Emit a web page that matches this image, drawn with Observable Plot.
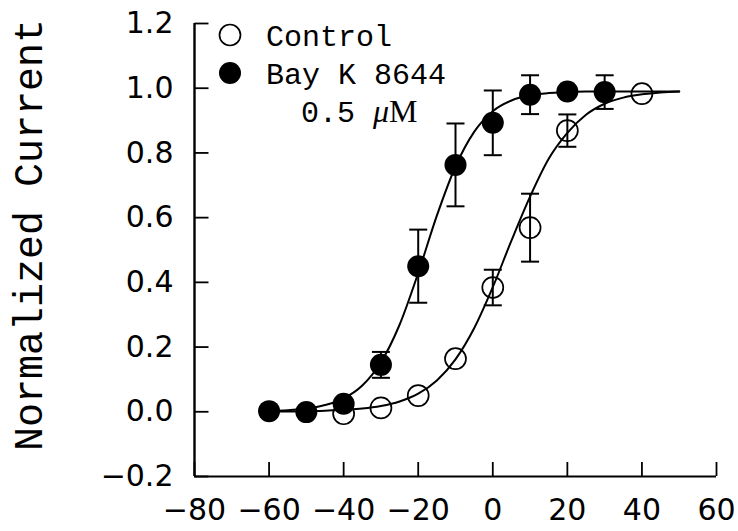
<!DOCTYPE html>
<html>
<head>
<meta charset="utf-8">
<script src="https://cdn.jsdelivr.net/npm/d3@7"></script>
<script src="https://cdn.jsdelivr.net/npm/@observablehq/plot@0.6"></script>
<style>
  html, body { margin: 0; padding: 0; background: #fff; }
</style>
</head>
<body>
<div id="wrap"></div>
<script>
// ---- data ----
const xDomain = [-80, 60];
const yDomain = [-0.2, 1.2];
const xTicks = [-80, -60, -40, -20, 0, 20, 40, 60];
const yTicks = [-0.2, 0.0, 0.2, 0.4, 0.6, 0.8, 1.0, 1.2];
const yTitle = "Normalized Current";

const seriesNames = ["Control", "Bay K 8644"];
const concentration = "0.5 ";
const concUnit = ["\u03BC", "M"];

const controlV = [-40, -30, -20, -10, 0, 10, 20, 40];
const controlI = [-0.006, 0.012, 0.05, 0.164, 0.384, 0.569, 0.869, 0.983];
const controlErr = [0, 0, 0, 0, 0.055, 0.105, 0.05, 0];

const bayV = [-60, -50, -40, -30, -20, -10, 0, 10, 20, 30];
const bayI = [0.002, -0.001, 0.025, 0.145, 0.45, 0.763, 0.893, 0.98, 0.99, 0.988];
const bayErr = [0, 0, 0, 0.04, 0.113, 0.128, 0.10, 0.06, 0, 0.052];

// fitted curves, read at 5 mV steps
const fitV = [-60, -55, -50, -45, -40, -35, -30, -25, -20, -15, -10, -5, 0, 5, 10, 15, 20, 25, 30, 35, 40, 45, 50];
const controlFit = [0.001, 0.001, 0.002, 0.003, 0.006, 0.010, 0.018, 0.032, 0.056, 0.097, 0.162, 0.258, 0.385, 0.529, 0.665, 0.782, 0.862, 0.918, 0.952, 0.971, 0.981, 0.987, 0.99];
const bayFit = [0.003, 0.005, 0.010, 0.021, 0.041, 0.081, 0.153, 0.269, 0.429, 0.606, 0.758, 0.865, 0.929, 0.962, 0.978, 0.985, 0.988, 0.99, 0.99, 0.99, 0.99, 0.99, 0.99];

// ---- tables built from the arrays ----
const controlPts = controlV.map((v, i) => ({v, i: controlI[i], e: controlErr[i]}));
const bayPts = bayV.map((v, i) => ({v, i: bayI[i], e: bayErr[i]}));
const fitRows = fitV.flatMap((v, k) => [
  {v, i: controlFit[k], s: seriesNames[0]},
  {v, i: bayFit[k], s: seriesNames[1]}
]);
const errRows = [...controlPts, ...bayPts].filter(d => d.e > 0);

// horizontal cap symbol for error bars
const capSymbol = {
  draw(context, size) {
    const r = Math.sqrt(size / Math.PI);
    context.moveTo(-r, 0);
    context.lineTo(r, 0);
  }
};
// inward tick for the left axis
const leftTickSymbol = {
  draw(context, size) {
    const r = Math.sqrt(size / Math.PI);
    context.moveTo(0, 0);
    context.lineTo(r, 0);
  }
};

const tickFont = "DejaVu Sans, Verdana, sans-serif";
const monoFont = "'Courier New', 'Liberation Mono', monospace";
const fmtY = d3.format(".1f");
const fmtX = d => (d < 0 ? "\u2212" + Math.abs(d) : String(d));

const chart = Plot.plot({
  width: 738,
  height: 531,
  marginLeft: 194,
  marginRight: 22,
  marginTop: 23,
  marginBottom: 55,
  x: {domain: xDomain},
  y: {domain: yDomain},
  marks: [
    Plot.ruleX([xDomain[0]], {y1: yDomain[0], y2: yDomain[1], stroke: "black", strokeWidth: 2.4}),
    Plot.ruleY([yDomain[0]], {x1: xDomain[0], x2: xDomain[1], stroke: "black", strokeWidth: 2.2}),
    Plot.axisX({ticks: xTicks, tickSize: -14, tickPadding: 36, tickFormat: fmtX,
      fontSize: 30, fontFamily: tickFont, stroke: "black", strokeWidth: 1.8, label: null}),
    Plot.axisY({ticks: yTicks, tickSize: 0, tickPadding: 21, tickFormat: fmtY,
      fontSize: 30, fontFamily: tickFont, label: null}),
    Plot.dot(yTicks, {x: () => xDomain[0], y: d => d, symbol: leftTickSymbol, r: 14,
      stroke: "black", strokeWidth: 1.8}),
    Plot.text([yTitle], {frameAnchor: "left", textAnchor: "middle", rotate: -90, dx: -165, dy: -15,
      fontSize: 40, fontFamily: monoFont, fill: "black"}),
    Plot.line(fitRows, {x: "v", y: "i", z: "s", curve: "monotone-x", stroke: "black", strokeWidth: 2}),
    Plot.ruleX(errRows, {x: "v", y1: d => d.i - d.e, y2: d => d.i + d.e, stroke: "black", strokeWidth: 2}),
    Plot.dot(errRows, {x: "v", y: d => d.i + d.e, symbol: capSymbol, r: 9, stroke: "black", strokeWidth: 2}),
    Plot.dot(errRows, {x: "v", y: d => d.i - d.e, symbol: capSymbol, r: 9, stroke: "black", strokeWidth: 2}),
    Plot.dot(controlPts, {x: "v", y: "i", r: 10.5, fill: "none", stroke: "black", strokeWidth: 1.7}),
    Plot.dot(bayPts, {x: "v", y: "i", r: 11, fill: "black", stroke: "none"})
  ]
});

document.getElementById("wrap").appendChild(chart);

// legend drawn into the chart's own svg
const leg = d3.select(chart).append("g").attr("class", "legend").attr("text-anchor", "start");
leg.append("circle").attr("cx", 230).attr("cy", 35).attr("r", 10.5)
  .attr("fill", "none").attr("stroke", "black").attr("stroke-width", 1.7);
leg.append("circle").attr("cx", 230).attr("cy", 73).attr("r", 11).attr("fill", "black");
leg.append("text").attr("x", 266).attr("y", 46).attr("font-family", monoFont)
  .attr("font-size", 30).attr("fill", "black").text(seriesNames[0]);
leg.append("text").attr("x", 266).attr("y", 84).attr("font-family", monoFont)
  .attr("font-size", 30).attr("fill", "black").text(seriesNames[1]);
const t3 = leg.append("text").attr("x", 301).attr("y", 122).attr("font-size", 30)
  .attr("font-family", monoFont).attr("fill", "black");
t3.append("tspan").text(concentration);
t3.append("tspan").attr("font-family", "'Liberation Serif', 'Times New Roman', serif")
  .attr("font-style", "italic").attr("font-size", 32).text(concUnit[0]);
t3.append("tspan").attr("font-family", "'Liberation Serif', 'Times New Roman', serif")
  .attr("font-size", 32).text(concUnit[1]);
</script>
</body>
</html>
